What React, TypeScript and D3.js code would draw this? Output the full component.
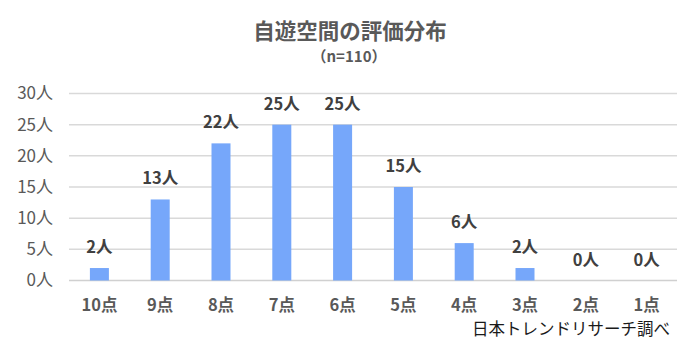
import * as d3 from 'd3';
import { useEffect, useRef } from 'react';

const WIDTH = 700;
const HEIGHT = 351;

const categories = ['10点', '9点', '8点', '7点', '6点', '5点', '4点', '3点', '2点', '1点'];
const counts = [2, 13, 22, 25, 25, 15, 6, 2, 0, 0];
const yTicks = [0, 5, 10, 15, 20, 25, 30];

const FONT = '"Noto Sans CJK JP", "Noto Sans", sans-serif';

export default function App() {
    const svgRef = useRef<SVGSVGElement | null>(null);

    useEffect(() => {
        if (!svgRef.current) {
            return;
        }
        const svg = d3.select(svgRef.current);
        svg.selectAll('*').remove();

        const left = 69;
        const right = 677;
        const top = 93.5;
        const bottom = 280.5;

        const x = d3.scaleBand().domain(categories).range([left, right]).paddingInner(0).paddingOuter(0);
        const y = d3.scaleLinear().domain([0, 30]).range([bottom, top]);
        const barW = 19;

        svg.append('rect').attr('width', WIDTH).attr('height', HEIGHT).attr('fill', '#ffffff');

        // title
        svg.append('text')
            .attr('x', 350)
            .attr('y', 39)
            .attr('text-anchor', 'middle')
            .attr('font-size', '21.5px')
            .attr('font-weight', 700)
            .attr('fill', '#595959')
            .text('自遊空間の評価分布');

        svg.append('text')
            .attr('x', 349)
            .attr('y', 62)
            .attr('text-anchor', 'middle')
            .attr('font-size', '15px')
            .attr('font-weight', 700)
            .attr('fill', '#595959')
            .text('（n=110）');

        // grid
        svg.append('g')
            .selectAll('line')
            .data(yTicks)
            .join('line')
            .attr('x1', left)
            .attr('x2', right)
            .attr('y1', (d) => y(d))
            .attr('y2', (d) => y(d))
            .attr('stroke', (d) => (d === 0 ? '#d0d0d0' : '#d9d9d9'))
            .attr('stroke-width', 1.5);

        // y labels
        svg.append('g')
            .selectAll('text')
            .data(yTicks)
            .join('text')
            .attr('x', 53)
            .attr('y', (d) => y(d))
            .attr('dy', '0.35em')
            .attr('text-anchor', 'end')
            .attr('font-size', '17px')
            .attr('fill', '#595959')
            .text((d) => `${d}人`);

        const rows = categories.map((c, i) => ({ cat: c, value: counts[i] }));

        // bars
        svg.append('g')
            .selectAll('rect')
            .data(rows)
            .join('rect')
            .attr('x', (d) => (x(d.cat) ?? 0) + x.bandwidth() / 2 - barW / 2)
            .attr('y', (d) => y(d.value))
            .attr('width', barW)
            .attr('height', (d) => bottom - y(d.value))
            .attr('fill', '#76a7fa');

        // value labels
        svg.append('g')
            .selectAll('text')
            .data(rows)
            .join('text')
            .attr('x', (d) => (x(d.cat) ?? 0) + x.bandwidth() / 2)
            .attr('y', (d) => y(d.value) - 15)
            .attr('text-anchor', 'middle')
            .attr('font-size', '16.5px')
            .attr('font-weight', 700)
            .attr('fill', '#404040')
            .text((d) => `${d.value}人`);

        // x labels
        svg.append('g')
            .selectAll('text')
            .data(categories)
            .join('text')
            .attr('x', (d) => (x(d) ?? 0) + x.bandwidth() / 2)
            .attr('y', 311)
            .attr('text-anchor', 'middle')
            .attr('font-size', '16.5px')
            .attr('font-weight', 700)
            .attr('fill', '#595959')
            .text((d) => d);

        // source
        svg.append('text')
            .attr('x', 670)
            .attr('y', 335)
            .attr('text-anchor', 'end')
            .attr('font-size', '16.5px')
            .attr('fill', '#1a1a1a')
            .text('日本トレンドリサーチ調べ');
    }, []);

    return (
        <svg
            ref={svgRef}
            width={WIDTH}
            height={HEIGHT}
            style={{ position: 'absolute', left: 0, top: 0, display: 'block', fontFamily: FONT }}
        />
    );
}
